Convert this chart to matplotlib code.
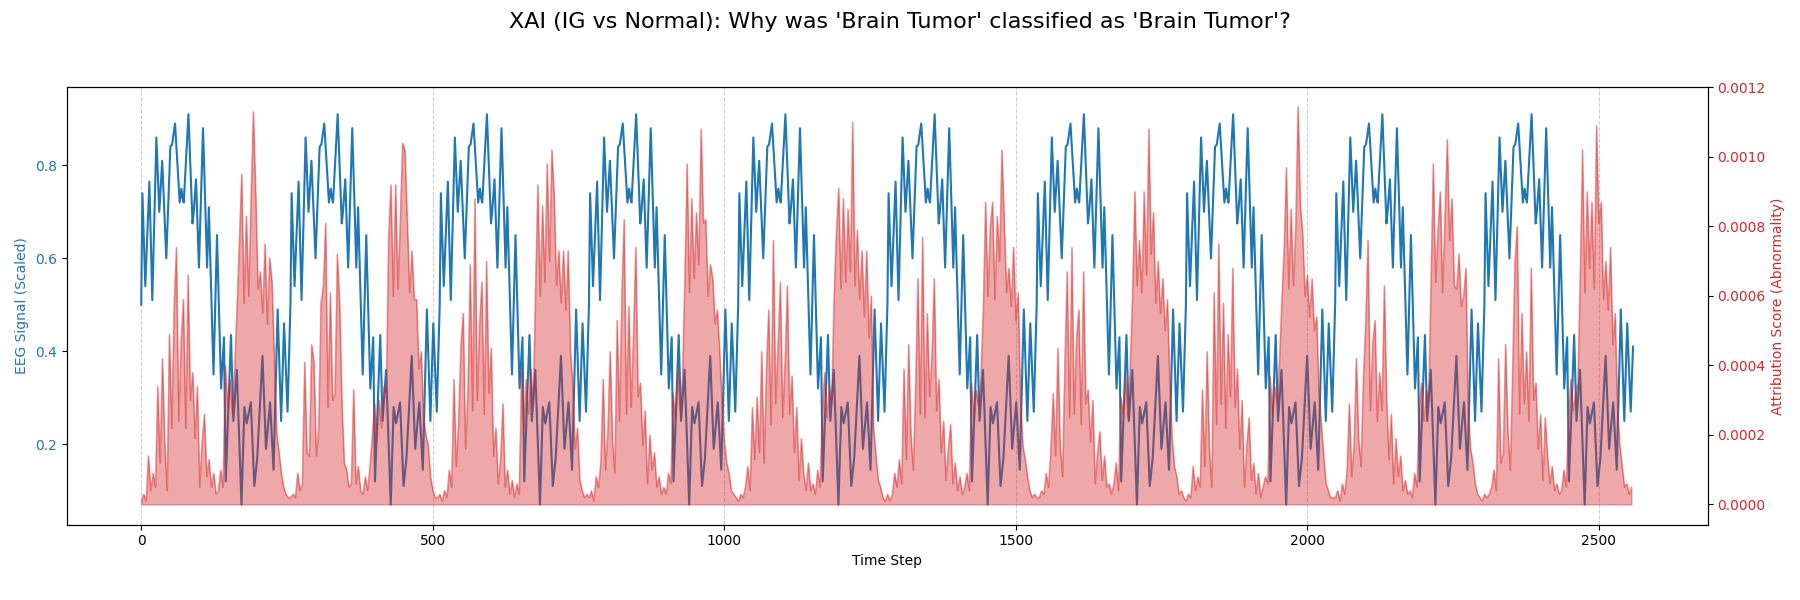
import numpy as np
import matplotlib
matplotlib.use("Agg")
import matplotlib.pyplot as plt

title = "XAI (IG vs Normal): Why was 'Brain Tumor' classified as 'Brain Tumor'?"

# EEG trace: the picture repeats the same 256-step cycle 10 times,
# turning points of one cycle (step, scaled value)
period = 256
n_periods = 10
eeg_steps = [0, 2, 7, 14, 19, 26, 31, 36, 43, 50, 53, 58, 66, 69, 71, 73,
             81, 88, 90, 94, 99, 106, 113, 116, 124, 130, 137, 142, 145, 154,
             158, 164, 172, 177, 181, 188, 194, 199, 208, 214, 221, 227, 234,
             240, 245, 251]
eeg_vals = [0.50, 0.74, 0.54, 0.765, 0.51, 0.86, 0.70, 0.81, 0.60, 0.84,
            0.845, 0.89, 0.72, 0.75, 0.73, 0.72, 0.91, 0.675, 0.70, 0.77,
            0.58, 0.88, 0.58, 0.71, 0.35, 0.65, 0.32, 0.43, 0.12, 0.435,
            0.25, 0.36, 0.07, 0.28, 0.245, 0.29, 0.11, 0.17, 0.39, 0.19,
            0.29, 0.145, 0.49, 0.25, 0.46, 0.27]
eeg_last_step = 2559
eeg_last_val = 0.41

# attribution (x1e-4), one row per 256-step cycle, sampled every 4 steps
attr_step = 4
attr_rows = [
    [0.1, 0.3, 0.1, 1.4, 0.4, 0.9, 0.5, 3.4,
     1.2, 4.2, 1.8, 0.4, 4.9, 2.2, 5.7, 7.4,
     2.4, 4.7, 5.9, 2.2, 6.6, 3.0, 3.8, 1.9,
     3.4, 0.5, 1.8, 2.6, 0.8, 1.3, 0.5, 0.9,
     0.3, 0.4, 1.0, 0.5, 4.0, 2.8, 3.6, 2.6,
     4.0, 5.7, 7.6, 9.5, 5.8, 8.3, 6.0, 8.8,
     11.3, 9.0, 6.2, 6.7, 5.5, 7.5, 5.2, 7.1,
     6.4, 4.2, 2.1, 1.5, 0.9, 0.5, 0.3, 0.2],
    [0.2, 0.3, 0.2, 0.9, 0.4, 0.6, 4.1, 1.5,
     1.4, 4.6, 4.1, 1.4, 2.2, 5.8, 6.3, 8.1,
     2.8, 6.1, 3.0, 3.2, 7.2, 5.8, 2.9, 1.2,
     1.0, 0.5, 0.6, 3.3, 0.6, 1.1, 0.4, 0.3,
     0.8, 0.4, 1.1, 2.0, 2.9, 1.8, 3.0, 2.2,
     3.4, 3.2, 7.7, 9.2, 6.0, 9.2, 6.2, 8.2,
     10.4, 10.2, 8.2, 6.1, 7.3, 5.9, 5.9, 3.9,
     4.4, 2.5, 2.0, 1.7, 0.8, 0.4, 0.2, 0.2],
    [0.3, 0.1, 0.4, 0.2, 1.0, 0.5, 3.6, 1.1,
     2.4, 4.6, 5.5, 1.6, 3.3, 6.9, 2.7, 8.8,
     3.0, 5.2, 6.4, 2.6, 7.0, 3.2, 4.5, 1.4,
     2.2, 0.6, 1.3, 2.9, 0.5, 1.0, 0.3, 0.7,
     0.2, 0.6, 0.3, 3.8, 2.2, 3.6, 2.6, 3.9,
     2.9, 6.2, 9.2, 6.0, 8.6, 6.4, 9.8, 7.0,
     10.2, 8.9, 6.3, 7.3, 5.8, 7.3, 5.6, 7.3,
     4.4, 3.4, 1.6, 2.2, 0.7, 0.4, 0.2, 0.3],
    [0.2, 0.4, 0.1, 0.8, 0.5, 1.2, 3.6, 1.0,
     2.1, 4.4, 1.9, 0.9, 5.3, 2.4, 6.0, 8.2,
     2.6, 5.7, 2.8, 4.9, 7.4, 3.1, 3.5, 1.7,
     2.7, 0.6, 2.0, 1.0, 1.5, 0.5, 0.8, 0.3,
     0.5, 0.3, 0.9, 0.6, 3.2, 2.4, 3.9, 2.7,
     3.6, 6.4, 9.8, 6.1, 8.8, 6.5, 8.4, 6.9,
     10.8, 8.1, 8.2, 6.0, 6.9, 6.5, 5.2, 5.6,
     4.4, 2.9, 1.8, 1.2, 0.9, 0.4, 0.3, 0.2],
    [0.1, 0.3, 0.2, 0.5, 1.1, 0.4, 2.8, 1.3,
     3.1, 1.5, 4.4, 1.2, 3.9, 5.6, 2.3, 7.6,
     2.9, 4.6, 6.4, 2.5, 4.1, 6.3, 2.6, 3.7,
     1.5, 2.8, 0.7, 1.9, 0.9, 0.4, 1.2, 0.4,
     0.6, 0.3, 1.0, 0.5, 2.7, 3.8, 2.5, 3.4,
     2.9, 5.9, 7.8, 9.1, 6.2, 8.8, 6.4, 8.5,
     6.7, 11.0, 6.3, 7.9, 5.9, 7.3, 5.4, 7.3,
     4.8, 6.0, 2.2, 1.4, 0.7, 0.5, 0.2, 0.1],
    [0.3, 0.1, 0.3, 0.9, 0.5, 1.3, 0.6, 3.9,
     1.3, 4.6, 2.0, 1.0, 3.4, 6.5, 2.6, 7.7,
     2.5, 5.5, 3.1, 4.3, 6.5, 2.7, 3.6, 1.5,
     2.4, 0.7, 1.6, 2.3, 0.6, 1.2, 0.4, 0.8,
     0.3, 0.5, 0.9, 0.4, 3.5, 2.5, 3.3, 2.8,
     3.7, 5.6, 8.7, 6.0, 8.0, 8.7, 5.9, 8.3,
     7.0, 10.2, 8.2, 6.1, 6.8, 5.7, 7.4, 5.3,
     6.1, 3.0, 1.7, 1.3, 0.8, 0.4, 0.2, 0.3],
    [0.2, 0.2, 0.4, 0.3, 0.9, 0.5, 1.6, 3.2,
     1.4, 4.5, 1.7, 0.8, 4.1, 6.7, 2.5, 7.4,
     2.6, 4.8, 5.6, 2.3, 6.7, 2.9, 3.3, 1.8,
     3.0, 0.6, 1.5, 2.1, 0.7, 1.4, 0.5, 0.6,
     0.3, 0.6, 1.2, 0.4, 3.1, 2.6, 3.7, 2.5,
     3.9, 6.0, 9.0, 6.3, 7.6, 6.1, 9.0, 6.6,
     10.8, 7.2, 8.4, 5.8, 7.0, 5.5, 6.5, 5.0,
     5.9, 3.6, 1.9, 1.1, 0.8, 0.3, 0.4, 0.2],
    [0.1, 0.3, 0.2, 1.1, 0.4, 0.8, 0.5, 3.3,
     1.1, 4.4, 1.6, 0.5, 6.1, 2.3, 7.5, 2.9,
     5.8, 2.2, 4.9, 3.1, 6.8, 2.8, 3.9, 1.6,
     3.0, 0.5, 1.7, 2.5, 0.7, 1.2, 0.3, 0.9,
     0.2, 0.5, 0.8, 0.6, 3.7, 2.6, 3.4, 2.9,
     4.1, 5.8, 7.3, 9.7, 6.2, 8.5, 6.3, 8.0,
     11.45, 8.6, 7.8, 6.0, 6.6, 5.4, 6.5, 5.0,
     5.4, 3.1, 2.3, 1.4, 0.6, 0.4, 0.2, 0.2],
    [0.2, 0.4, 0.1, 0.6, 0.3, 1.0, 2.9, 0.8,
     1.7, 4.2, 1.9, 1.1, 3.6, 5.2, 7.6, 2.7,
     4.6, 5.3, 2.4, 3.8, 2.7, 6.3, 3.0, 1.3,
     2.6, 0.6, 1.9, 0.8, 1.4, 0.4, 0.7, 0.3,
     0.4, 0.2, 0.9, 0.5, 2.8, 3.5, 2.4, 3.3,
     3.0, 6.3, 9.8, 6.4, 7.9, 9.0, 6.1, 8.3,
     10.5, 7.6, 8.8, 6.3, 6.2, 7.2, 5.7, 6.0,
     6.8, 2.7, 1.6, 1.2, 0.6, 0.3, 0.2, 0.1],
    [0.3, 0.2, 0.3, 0.5, 1.0, 0.4, 4.2, 1.2,
     1.5, 4.6, 2.1, 1.0, 3.8, 7.0, 8.0, 2.6,
     5.5, 2.9, 4.4, 2.4, 6.8, 3.0, 3.5, 1.6,
     2.6, 0.7, 2.5, 1.4, 0.6, 1.1, 0.4, 0.6,
     0.3, 0.4, 1.0, 0.5, 2.5, 3.6, 2.7, 3.2,
     3.5, 6.6, 10.2, 6.1, 9.0, 6.8, 8.7, 6.2,
     10.9, 8.1, 8.7, 5.9, 7.0, 5.6, 7.4, 4.6,
     5.5, 2.8, 1.7, 1.1, 0.5, 0.6, 0.3, 0.5],
]

# build plotting arrays
eeg_x = np.concatenate([p * period + np.array(eeg_steps) for p in range(n_periods)] + [[eeg_last_step]])
eeg_y = np.concatenate([eeg_vals] * n_periods + [[eeg_last_val]])

attr_x = np.concatenate([p * period + attr_step * np.arange(len(row)) for p, row in enumerate(attr_rows)])
attr_y = np.concatenate([np.array(row) for row in attr_rows]) * 1e-4

fig, ax1 = plt.subplots(figsize=(18, 6), dpi=100)
fig.subplots_adjust(left=0.037, right=0.9487, top=0.8545, bottom=0.1257)

ax1.plot(eeg_x, eeg_y, color='tab:blue', linewidth=1.5)
ax1.set_xlabel('Time Step')
ax1.set_ylabel('EEG Signal (Scaled)', color='tab:blue')
ax1.tick_params(axis='y', labelcolor='tab:blue')
ax1.set_ylim(0.027, 0.968)
ax1.set_xlim(-128, 2687)
ax1.grid(True, axis='x', linestyle='--', alpha=0.6)

ax2 = ax1.twinx()
ax2.plot(attr_x, attr_y, color='tab:red', alpha=0.3, linewidth=0.9)
ax2.fill_between(attr_x, 0, attr_y, color='tab:red', alpha=0.4)
ax2.set_ylabel('Attribution Score (Abnormality)', color='tab:red')
ax2.tick_params(axis='y', labelcolor='tab:red')
ax2.set_ylim(-0.000058, 0.0012)

fig.suptitle(title, fontsize=16)

fig.savefig('out.png')
